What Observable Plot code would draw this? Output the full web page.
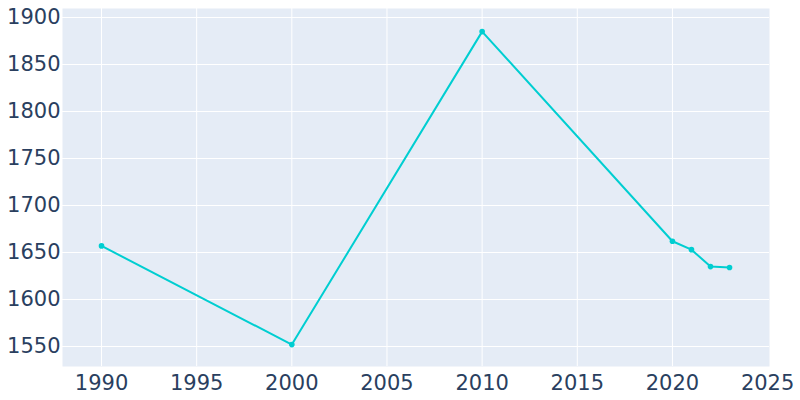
<!DOCTYPE html>
<html>
<head>
<meta charset="utf-8">
<script src="https://cdn.jsdelivr.net/npm/d3@7"></script>
<script src="https://cdn.jsdelivr.net/npm/@observablehq/plot@0.6"></script>
<style>
  html, body { margin: 0; padding: 0; background: #fff; }
  #chart svg { display: block; }
</style>
</head>
<body>
<div id="chart"></div>
<script>
const years = [1990, 2000, 2010, 2020, 2021, 2022, 2023];
const population = [1657, 1552, 1885, 1662, 1653, 1635, 1634];
const xTicks = [1990, 1995, 2000, 2005, 2010, 2015, 2020, 2025];
const yTicks = [1550, 1600, 1650, 1700, 1750, 1800, 1850, 1900];

const data = years.map((y, i) => ({year: y, pop: population[i]}));
const xGrid = xTicks.filter(t => t < 2025);

const chart = Plot.plot({
  width: 800,
  height: 400,
  marginLeft: 62,
  marginRight: 31,
  marginTop: 8,
  marginBottom: 34,
  style: {fontFamily: "'DejaVu Sans', sans-serif", fontSize: "21px", color: "#2a3f5f", background: "#fff"},
  x: {domain: [1987.95, 2025.1], ticks: xTicks, tickFormat: d => String(d), tickSize: 0, tickPadding: 8, label: null},
  y: {domain: [1528.7, 1909.6], ticks: yTicks, tickFormat: d => String(d), tickSize: 0, tickPadding: 3, label: null},
  marks: [
    Plot.frame({fill: "#E5ECF6", stroke: null}),
    Plot.gridX(xGrid, {stroke: "#fff", strokeOpacity: 1, strokeWidth: 1}),
    Plot.gridY(yTicks, {stroke: "#fff", strokeOpacity: 1, strokeWidth: 1}),
    Plot.axisX({ticks: xTicks, tickFormat: d => String(d), tickSize: 0, tickPadding: 9, fill: "#2a3f5f", fontSize: 21}),
    Plot.axisY({ticks: yTicks, tickFormat: d => String(d), tickSize: 0, tickPadding: 2, fill: "#2a3f5f", fontSize: 21}),
    Plot.line(data, {x: "year", y: "pop", stroke: "#00CED1", strokeWidth: 2}),
    Plot.dot(data, {x: "year", y: "pop", fill: "#00CED1", r: 2.8, stroke: null})
  ]
});
document.getElementById("chart").appendChild(chart);
</script>
</body>
</html>
